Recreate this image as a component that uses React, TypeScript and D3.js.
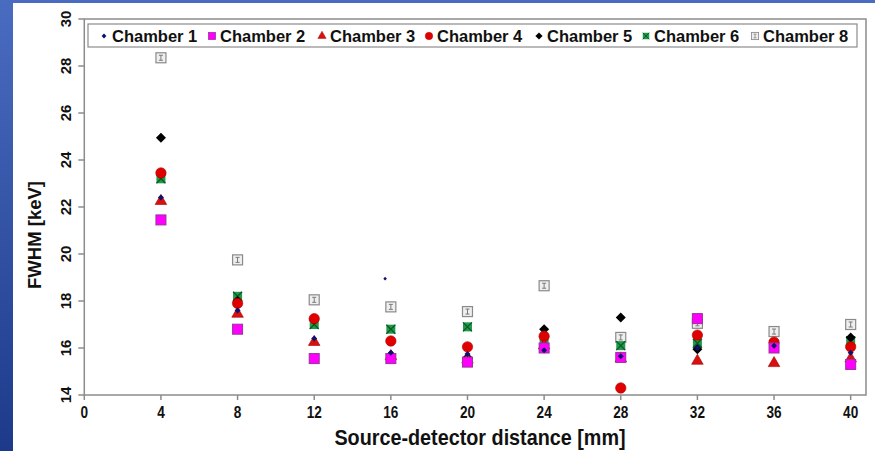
import React from "react";
import * as d3 from "d3";

const distances = [4, 8, 12, 16, 20, 24, 28, 32, 36, 40];
const chamber1 = [22.4, 17.6, 16.4, 15.8, 15.75, 15.9, 15.65, 16.0, 16.1, 15.8];
const chamber2 = [21.45, 16.8, 15.55, 15.55, 15.4, 16.0, 15.6, 17.25, 16.0, 15.3];
const chamber3 = [22.25, 17.45, 16.25, 15.65, 15.5, 16.1, 15.55, 15.45, 15.35, 15.55];
const chamber4 = [23.45, 17.9, 17.25, 16.3, 16.05, 16.5, 14.3, 16.55, 16.25, 16.05];
const chamber5 = [24.95, 18.0, 17.2, 15.7, 15.6, 16.8, 17.3, 15.95, 16.1, 16.45];
const chamber6 = [23.2, 18.2, 17.0, 16.8, 16.9, 16.3, 16.1, 16.2, 16.15, 16.3];
const chamber8 = [28.35, 19.75, 18.05, 17.75, 17.55, 18.65, 16.45, 17.05, 16.7, 17.0];
// lone stray dot near x=16
const strayX = [15.7];
const strayY = [18.95];

const xTicks = [0, 4, 8, 12, 16, 20, 24, 28, 32, 36, 40];
const yTicks = [14, 16, 18, 20, 22, 24, 26, 28, 30];

const series = [
  { name: "Chamber 1", key: "c1", values: chamber1 },
  { name: "Chamber 2", key: "c2", values: chamber2 },
  { name: "Chamber 3", key: "c3", values: chamber3 },
  { name: "Chamber 4", key: "c4", values: chamber4 },
  { name: "Chamber 5", key: "c5", values: chamber5 },
  { name: "Chamber 6", key: "c6", values: chamber6 },
  { name: "Chamber 8", key: "c8", values: chamber8 },
];

const sans = "'Liberation Sans', Arial, sans-serif";

function Marker({ k, x, y, s = 1 }: { k: string; x: number; y: number; s?: number }) {
  const t = `translate(${x},${y}) scale(${s})`;
  if (k === "c1") {
    return <path transform={t} d="M0,-3L3,0L0,3L-3,0Z" fill="#10106e" />;
  }
  if (k === "c2") {
    return <rect transform={t} x={-5} y={-5} width={10} height={10} fill="#ff00ff" stroke="#993399" strokeWidth={1} />;
  }
  if (k === "c3") {
    return <path transform={t} d={d3.symbol(d3.symbolTriangle, 58)()!} fill="#d81010" stroke="#a00000" strokeWidth={0.6} />;
  }
  if (k === "c4") {
    return <circle transform={t} r={5.2} fill="#e00000" stroke="#b00000" strokeWidth={0.6} />;
  }
  if (k === "c5") {
    return <path transform={t} d="M0,-5L5,0L0,5L-5,0Z" fill="#000" />;
  }
  if (k === "c6") {
    return (
      <g transform={t}>
        <rect x={-4.5} y={-4.5} width={9} height={9} fill="#1f9a4a" />
        <path d="M-4.5,-4.5L4.5,4.5M4.5,-4.5L-4.5,4.5" stroke="#0b5a25" strokeWidth={1.3} />
      </g>
    );
  }
  return (
    <g transform={t}>
      <rect x={-5} y={-5} width={10} height={10} fill="#efefef" stroke="#8a8a8a" strokeWidth={1.2} />
      <path d="M0,-2.5V2.5M-2,-2.5H2M-2,2.5H2" stroke="#7a7a7a" strokeWidth={1} fill="none" />
    </g>
  );
}

export default function App() {
  const width = 875;
  const height = 451;
  const left = 84.3;
  const right = 866;
  const top = 19;
  const bottom = 395;

  const x = d3.scaleLinear().domain([0, 40.8]).range([left, right]);
  const y = d3.scaleLinear().domain([14, 30]).range([bottom, top]);

  const legendX = [104, 212, 322, 429, 539, 646, 755];

  return (
    <svg width={width} height={height} style={{ position: "absolute", left: 0, top: 0 }}>
      <defs>
        <linearGradient id="side" x1="0" y1="0" x2="0" y2="1">
          <stop offset="0" stopColor="#4a6cc0" />
          <stop offset="1" stopColor="#1d3a8a" />
        </linearGradient>
      </defs>
      <rect x={0} y={0} width={width} height={height} fill="#ffffff" />
      <rect x={0} y={0} width={width} height={3} fill="#4a6cc0" />
      <rect x={0} y={0} width={13} height={height} fill="url(#side)" />

      {/* plot frame */}
      <rect x={left} y={top} width={right - left} height={bottom - top} fill="none" stroke="#8c8c8c" strokeWidth={1.5} />

      {yTicks.map((v) => (
        <g key={v}>
          <line x1={left - 6} x2={left} y1={y(v)} y2={y(v)} stroke="#8c8c8c" strokeWidth={1.5} />
          <text
            transform={`translate(${left - 13},${y(v)}) rotate(-90)`}
            textAnchor="middle"
            fontFamily={sans}
            fontWeight="bold"
            fontSize={15}
            fill="#111"
          >
            {v}
          </text>
        </g>
      ))}
      {xTicks.map((v) => (
        <g key={v}>
          <line x1={x(v)} x2={x(v)} y1={bottom} y2={bottom + 5} stroke="#8c8c8c" strokeWidth={1.5} />
          <text
            transform={`translate(${x(v)},${bottom + 23}) scale(0.8,1)`}
            textAnchor="middle"
            fontFamily={sans}
            fontWeight="bold"
            fontSize={17}
            fill="#111"
          >
            {v}
          </text>
        </g>
      ))}

      <text
        transform={`translate(41,235) rotate(-90)`}
        textAnchor="middle"
        fontFamily={sans}
        fontWeight="bold"
        fontSize={18.5}
        fill="#111"
      >
        FWHM [keV]
      </text>
      <text
        transform="translate(480,445) scale(0.9,1)"
        textAnchor="middle"
        fontFamily={sans}
        fontWeight="bold"
        fontSize={22}
        fill="#111"
      >
        Source-detector distance [mm]
      </text>

      {/* points, last series drawn first */}
      {[...series].reverse().map((s) => (
        <g key={s.key}>
          {s.values.map((v, i) => (
            <Marker key={i} k={s.key} x={x(distances[i])} y={y(v)} />
          ))}
        </g>
      ))}
      {strayX.map((v, i) => (
        <Marker key={"s" + i} k="c1" x={x(v)} y={y(strayY[i])} s={0.6} />
      ))}

      {/* legend */}
      <rect x={88} y={24} width={769} height={23} fill="#fff" stroke="#8c8c8c" strokeWidth={1.2} />
      {series.map((s, i) => (
        <g key={s.key}>
          <Marker k={s.key} x={legendX[i]} y={36} s={s.key === "c1" ? 0.8 : 0.72} />
          <text x={legendX[i] + 8} y={42} fontFamily={sans} fontWeight="bold" fontSize={16.5} fill="#111">
            {s.name}
          </text>
        </g>
      ))}
    </svg>
  );
}
